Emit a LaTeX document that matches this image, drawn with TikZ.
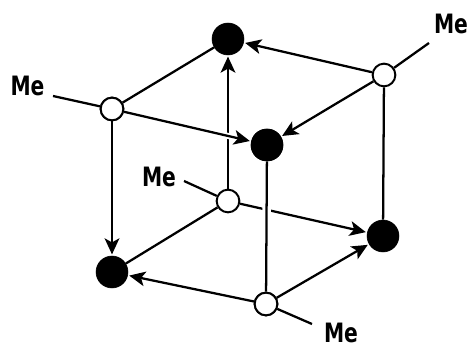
\documentclass[tikz,border=0pt]{standalone}
\usepackage{fontspec}
\setsansfont{DejaVu Sans}
\usetikzlibrary{arrows.meta,positioning}
\begin{document}
\begin{tikzpicture}[
  x=0.75pt, y=-0.75pt,
  atomopen/.style={circle, draw=black, fill=white, line width=1.5pt, inner sep=0pt, minimum size=17pt},
  atomfull/.style={circle, draw=black, fill=black, inner sep=0pt, minimum size=24pt},
  bondline/.style={black, line width=1.7pt},
  bondarrow/.style={bondline, -{Stealth[length=12pt, width=11pt, inset=3pt]}, shorten >=1pt},
  melabel/.style={font=\sffamily\bfseries\fontsize{20}{20}\selectfont, inner sep=0pt, xscale=0.76},
]
\useasboundingbox (0,0) rectangle (472,349);
% cube corners
\foreach \nm/\xx/\yy in {tl/112/109, tr/384/75, cc/228/201, bb/266/304} {
  \node[atomopen] (\nm) at (\xx,\yy) {};
}
\foreach \nm/\xx/\yy in {bk/228/39, fr/267/145, rr/383/236, ll/112/272} {
  \node[atomfull] (\nm) at (\xx,\yy) {};
}
% methyl labels and free ends
\node[melabel] (metl) at (27.5,86) {Me};
\node[melabel] (metr) at (451,24) {Me};
\node[melabel] (mecc) at (159,177) {Me};
\node[melabel] (mebb) at (341,333) {Me};
\coordinate (endtl) at (53,96);
\coordinate (endtr) at (429,43);
\coordinate (endcc) at (184,181);
\coordinate (endbb) at (312,324);

% plain bonds
\draw[bondline] (tl) -- (bk);
\draw[bondline] (cc) -- (ll);
\draw[bondline] (bb) -- (endbb);
\draw[bondline] (tl) -- (endtl);
\draw[bondline] (tr) -- (endtr);
\draw[bondline] (cc) -- (endcc);
\draw[bondline] (tr) -- (rr);
% arrows
\draw[bondarrow] (tl) -- (ll);
\draw[bondarrow] (tr) -- (bk);
\draw[bondarrow] (tr) -- (fr);
\draw[bondarrow] (cc) -- (bk);
\draw[white, line width=4.5pt] (tl) -- (fr);
\draw[bondarrow] (tl) -- (fr);
\draw[bondarrow] (cc) -- (rr);
\draw[bondarrow] (bb) -- (ll);
\draw[bondarrow] (bb) -- (rr);
% front edge breaks the hidden one
\draw[white, line width=6.5pt] (fr) -- (bb);
\draw[bondline] (fr) -- (bb);
% redraw corners over the white breaks
\node[atomopen] at (bb) {};
\node[atomopen] at (tl) {};
\node[atomfull] at (fr) {};
\end{tikzpicture}
\end{document}
